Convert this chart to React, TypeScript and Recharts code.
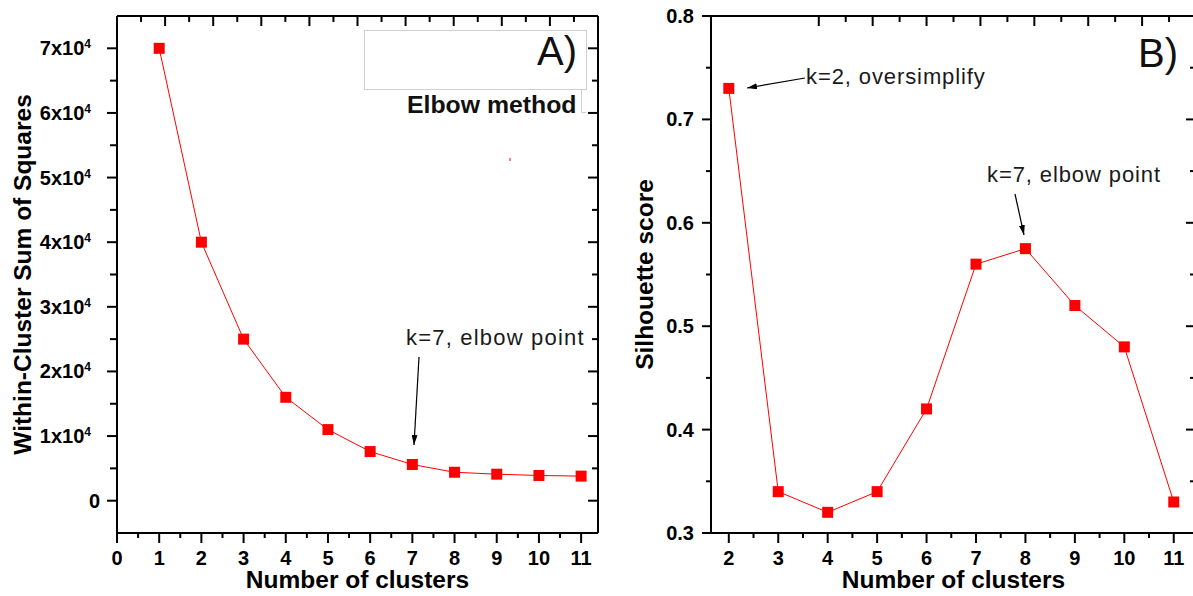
import { Line, LineChart, XAxis, YAxis } from 'recharts'

const FONT = 'Arial, "Liberation Sans", sans-serif'

// panel A: elbow method
const clustersA = [1, 2, 3, 4, 5, 6, 7, 8, 9, 10, 11]
const wcss = [70000, 40000, 25000, 16000, 11000, 7600, 5600, 4400, 4100, 3900, 3800]
const xMajorA = [0, 1, 2, 3, 4, 5, 6, 7, 8, 9, 10, 11]
const xMinorA = [0.5, 1.5, 2.5, 3.5, 4.5, 5.5, 6.5, 7.5, 8.5, 9.5, 10.5]
const yMajorA = [0, 10000, 20000, 30000, 40000, 50000, 60000, 70000]
const yMinorA = [5000, 15000, 25000, 35000, 45000, 55000, 65000]

// panel B: silhouette
const clustersB = [2, 3, 4, 5, 6, 7, 8, 9, 10, 11]
const silhouette = [0.73, 0.34, 0.32, 0.34, 0.42, 0.56, 0.575, 0.52, 0.48, 0.33]
const xMajorB = [2, 3, 4, 5, 6, 7, 8, 9, 10, 11]
const xMinorB = [2.5, 3.5, 4.5, 5.5, 6.5, 7.5, 8.5, 9.5, 10.5]
const yMajorB = [0.3, 0.4, 0.5, 0.6, 0.7, 0.8]
const yMinorB = [0.35, 0.45, 0.55, 0.65, 0.75]

const dataA = clustersA.map((k, i) => ({ k, wcss: wcss[i] }))
const dataB = clustersB.map((k, i) => ({ k, score: silhouette[i] }))

const sortNums = (a: number[], b: number[]) => [...a, ...b].sort((p, q) => p - q)

const labelStyle = { fontFamily: FONT, fontSize: 24.5, fontWeight: 'bold', fill: '#000' }
const tickText = { fontFamily: FONT, fontSize: 20, fontWeight: 'bold', fill: '#000' }

const squareDot = (p: any) => (
  <rect key={`d-${p.index}`} x={p.cx - 5.5} y={p.cy - 5.5} width={11} height={11} fill="#ff0000" />
)

// bottom axis: outward ticks with labels
const bottomTick = (majors: number[]) => (p: any) => {
  const major = majors.includes(p.payload.value)
  return (
    <g>
      <line x1={p.x} x2={p.x} y1={p.y} y2={p.y + (major ? 10 : 5)} stroke="#000" strokeWidth={2} />
      {major && (
        <text x={p.x} y={p.y + 32} textAnchor="middle" {...tickText}>
          {p.payload.value}
        </text>
      )}
    </g>
  )
}

// top axis: inward ticks, no labels
const topTick = (majors: number[]) => (p: any) => {
  const major = majors.includes(p.payload.value)
  return <line x1={p.x} x2={p.x} y1={p.y} y2={p.y + (major ? 10 : 6)} stroke="#000" strokeWidth={2} />
}

// right axis: inward ticks, no labels
const rightTick = (majors: number[]) => (p: any) => {
  const major = majors.includes(p.payload.value)
  return <line x1={p.x} x2={p.x - (major ? 10 : 6)} y1={p.y} y2={p.y} stroke="#000" strokeWidth={2} />
}

const leftTickA = (p: any) => {
  const v = p.payload.value
  const major = yMajorA.includes(v)
  return (
    <g>
      <line x1={p.x} x2={p.x - (major ? 10 : 7)} y1={p.y} y2={p.y} stroke="#000" strokeWidth={2} />
      {major &&
        (v === 0 ? (
          <text x={p.x - 17} y={p.y + 7} textAnchor="end" {...tickText}>
            0
          </text>
        ) : (
          <text x={p.x - 26} y={p.y + 7} textAnchor="end" {...tickText}>
            {`${v / 10000}x10`}
            <tspan dy={-7} fontSize={12}>
              4
            </tspan>
          </text>
        ))}
    </g>
  )
}

const leftTickB = (p: any) => {
  const v = p.payload.value
  const major = yMajorB.includes(v)
  return (
    <g>
      <line x1={p.x} x2={p.x - (major ? 9 : 5)} y1={p.y} y2={p.y} stroke="#000" strokeWidth={2} />
      {major && (
        <text x={p.x - 17} y={p.y + 7} textAnchor="end" {...tickText}>
          {v.toFixed(1)}
        </text>
      )}
    </g>
  )
}

const axisLine = { stroke: '#000', strokeWidth: 2 }

const annText = { fontFamily: FONT, fontSize: 22, fill: '#1a1a1a' }

export default function App() {
  const xTicksA = sortNums(xMajorA, xMinorA)
  const yTicksA = sortNums(yMajorA, yMinorA)
  const xTicksB = sortNums(xMajorB, xMinorB)
  const yTicksB = sortNums(yMajorB, yMinorB)

  return (
    <div style={{ position: 'absolute', left: 0, top: 0, width: 1193, height: 596, overflow: 'hidden', background: '#fff' }}>
      <div style={{ position: 'absolute', left: 0, top: 0 }}>
        <LineChart width={610} height={596} data={dataA} margin={{ top: 15, right: 11, bottom: 0, left: 0 }}>
          <XAxis
            dataKey="k"
            type="number"
            domain={[0, 11.4]}
            allowDataOverflow
            ticks={xTicksA}
            interval={0}
            height={63}
            tickSize={0}
            tickMargin={0}
            tickLine={false}
            axisLine={axisLine}
            tick={bottomTick(xMajorA)}
            label={{ value: 'Number of clusters', position: 'insideBottom', offset: 8, ...labelStyle }}
          />
          <XAxis
            xAxisId="top"
            orientation="top"
            type="number"
            domain={[0, 11.4]}
            allowDataOverflow
            ticks={xTicksA}
            interval={0}
            height={1}
            tickSize={0}
            tickMargin={0}
            tickLine={false}
            axisLine={axisLine}
            tick={topTick(xMajorA)}
          />
          <YAxis
            type="number"
            domain={[-5000, 75000]}
            allowDataOverflow
            ticks={yTicksA}
            interval={0}
            width={117}
            tickSize={0}
            tickMargin={0}
            tickLine={false}
            axisLine={axisLine}
            tick={leftTickA}
            label={{
              value: 'Within-Cluster Sum of Squares',
              angle: -90,
              position: 'insideLeft',
              offset: 22,
              style: { textAnchor: 'middle' },
              ...labelStyle,
            }}
          />
          <YAxis
            yAxisId="right"
            orientation="right"
            type="number"
            domain={[-5000, 75000]}
            allowDataOverflow
            ticks={yTicksA}
            interval={0}
            width={1}
            tickSize={0}
            tickMargin={0}
            tickLine={false}
            axisLine={axisLine}
            tick={rightTick(yMajorA)}
          />
          <Line dataKey="wcss" stroke="#ff0000" strokeWidth={1} dot={squareDot} isAnimationActive={false} />
        </LineChart>
      </div>

      <div style={{ position: 'absolute', left: 610, top: 0 }}>
        <LineChart width={600} height={596} data={dataB} margin={{ top: 15, right: 13, bottom: 0, left: 0 }}>
          <XAxis
            dataKey="k"
            type="number"
            domain={[1.64, 11.45]}
            allowDataOverflow
            ticks={xTicksB}
            interval={0}
            height={63}
            tickSize={0}
            tickMargin={0}
            tickLine={false}
            axisLine={axisLine}
            tick={bottomTick(xMajorB)}
            label={{ value: 'Number of clusters', position: 'insideBottom', offset: 8, ...labelStyle }}
          />
          <XAxis
            xAxisId="top"
            orientation="top"
            type="number"
            domain={[1.64, 11.45]}
            allowDataOverflow
            ticks={xTicksB}
            interval={0}
            height={1}
            tickSize={0}
            tickMargin={0}
            tickLine={false}
            axisLine={axisLine}
            tick={topTick(xMajorB)}
          />
          <YAxis
            type="number"
            domain={[0.3, 0.8]}
            allowDataOverflow
            ticks={yTicksB}
            interval={0}
            width={101}
            tickSize={0}
            tickMargin={0}
            tickLine={false}
            axisLine={axisLine}
            tick={leftTickB}
            label={{
              value: 'Silhouette score',
              angle: -90,
              position: 'insideLeft',
              offset: 34,
              style: { textAnchor: 'middle' },
              ...labelStyle,
            }}
          />
          <YAxis
            yAxisId="right"
            orientation="right"
            type="number"
            domain={[0.3, 0.8]}
            allowDataOverflow
            ticks={yTicksB}
            interval={0}
            width={1}
            tickSize={0}
            tickMargin={0}
            tickLine={false}
            axisLine={axisLine}
            tick={rightTick(yMajorB)}
          />
          <Line dataKey="score" stroke="#ff0000" strokeWidth={1} dot={squareDot} isAnimationActive={false} />
        </LineChart>
      </div>

      {/* annotations */}
      <svg width={1193} height={596} style={{ position: 'absolute', left: 0, top: 0, pointerEvents: 'none' }}>
        <defs>
          <marker id="arrow" viewBox="0 0 10 6" refX={10} refY={3} markerWidth={10} markerHeight={6} markerUnits="userSpaceOnUse" orient="auto">
            <path d="M0,0 L10,3 L0,6 z" fill="#000" />
          </marker>
        </defs>

        <rect x={364.5} y={30.5} width={222} height={59} fill="none" stroke="#cfcfcf" strokeWidth={1} />
        <polyline points="581.5,89 581.5,112.5 586,112.5" fill="none" stroke="#cfcfcf" strokeWidth={1} />
        <text x={537} y={65} fontFamily={FONT} fontSize={40} fill="#111">
          A)
        </text>
        <text x={407} y={113} fontFamily={FONT} fontSize={24.8} fontWeight="bold" fill="#111">
          Elbow method
        </text>
        <line x1={510} x2={510} y1={158} y2={161} stroke="#ff0000" strokeWidth={1} />

        <text x={406} y={345} letterSpacing={1.2} {...annText}>
          k=7, elbow point
        </text>
        <line x1={419} y1={357} x2={414} y2={445} stroke="#000" strokeWidth={1.2} markerEnd="url(#arrow)" />

        <text x={1138} y={67} fontFamily={FONT} fontSize={40} fill="#111">
          B)
        </text>
        <text x={806} y={84} letterSpacing={0.9} {...annText}>
          k=2, oversimplify
        </text>
        <line x1={805} y1={78} x2={747} y2={88} stroke="#000" strokeWidth={1.2} markerEnd="url(#arrow)" />
        <text x={987} y={182} letterSpacing={0.9} {...annText}>
          k=7, elbow point
        </text>
        <line x1={1015} y1={194} x2={1024} y2={235} stroke="#000" strokeWidth={1.2} markerEnd="url(#arrow)" />
      </svg>
    </div>
  )
}
